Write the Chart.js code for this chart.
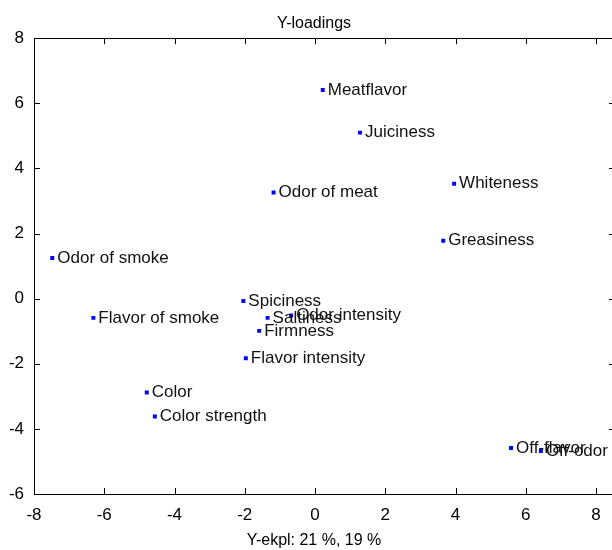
<!DOCTYPE html>
<html>
<head>
<meta charset="utf-8">
<script src="https://cdn.jsdelivr.net/npm/chart.js@4/dist/chart.umd.min.js"></script>
<style>
  html, body { margin: 0; padding: 0; background: #fff; }
  #wrap { width: 612px; height: 550px; overflow: hidden; }
  canvas { display: block; }
</style>
</head>
<body>
<div id="wrap"><canvas id="c" width="628" height="550"></canvas></div>
<script>
// Sensory attributes and their Y-loadings (component 1 vs component 2)
const attributes = [
  'Meatflavor', 'Juiciness', 'Odor of meat', 'Whiteness', 'Greasiness',
  'Odor of smoke', 'Spiciness', 'Flavor of smoke', 'Saltiness', 'Odor intensity',
  'Firmness', 'Flavor intensity', 'Color', 'Color strength', 'Off-flavor', 'Off-odor'
];
const loadingX = [
  0.22, 1.28, -1.18, 3.96, 3.65,
  -7.48, -2.04, -6.31, -1.35, -0.68,
  -1.59, -1.97, -4.79, -4.56, 5.58, 6.43
];
const loadingY = [
  6.41, 5.10, 3.26, 3.53, 1.78,
  1.25, -0.07, -0.59, -0.59, -0.52,
  -0.99, -1.83, -2.88, -3.62, -4.59, -4.68
];
const xTicks = [-8, -6, -4, -2, 0, 2, 4, 6, 8];
const yTicks = [-6, -4, -2, 0, 2, 4, 6, 8];

const FONT = '"Liberation Sans", Arial, Helvetica, sans-serif';

// Box around the plot with short inward tick marks on every side
const framePlugin = {
  id: 'frame',
  afterDraw(chart) {
    const { ctx, chartArea: a, scales } = chart;
    const len = 6;
    ctx.save();
    ctx.strokeStyle = '#000';
    ctx.lineWidth = 1;
    ctx.beginPath();
    ctx.rect(Math.round(a.left) + 0.5, Math.round(a.top) + 0.5,
             Math.round(a.right - a.left), Math.round(a.bottom - a.top));
    scales.x.ticks.forEach(t => {
      const px = Math.round(scales.x.getPixelForValue(t.value)) + 0.5;
      ctx.moveTo(px, a.bottom); ctx.lineTo(px, a.bottom - len);
      ctx.moveTo(px, a.top); ctx.lineTo(px, a.top + len);
    });
    scales.y.ticks.forEach(t => {
      const py = Math.round(scales.y.getPixelForValue(t.value)) + 0.5;
      ctx.moveTo(a.left, py); ctx.lineTo(a.left + len, py);
      ctx.moveTo(a.right, py); ctx.lineTo(a.right - len, py);
    });
    ctx.stroke();
    ctx.restore();
  }
};

// Attribute name written just to the right of each point
const pointLabelPlugin = {
  id: 'pointLabels',
  afterDatasetsDraw(chart) {
    const { ctx } = chart;
    const meta = chart.getDatasetMeta(0);
    ctx.save();
    ctx.font = '17px ' + FONT;
    ctx.fillStyle = '#111';
    ctx.textAlign = 'left';
    ctx.textBaseline = 'middle';
    meta.data.forEach((pt, i) => {
      ctx.fillText(attributes[i], pt.x + 5, pt.y);
    });
    ctx.restore();
  }
};

new Chart(document.getElementById('c'), {
  type: 'scatter',
  data: {
    datasets: [{
      data: loadingX.map((x, i) => ({ x: x, y: loadingY[i] })),
      backgroundColor: '#0000ff',
      borderWidth: 0,
      pointStyle: 'rect',
      pointRadius: 2.8,
      pointHoverRadius: 2.8
    }]
  },
  options: {
    responsive: false,
    animation: false,
    devicePixelRatio: 1,
    layout: { padding: 0 },
    plugins: {
      legend: { display: false },
      tooltip: { enabled: false },
      title: {
        display: true,
        text: 'Y-loadings',
        color: '#000',
        font: { family: FONT, size: 16, weight: 'normal' },
        padding: { top: 14, bottom: 5 }
      },
      subtitle: {
        display: true,
        position: 'bottom',
        text: 'Y-ekpl: 21 %, 19 %',
        color: '#000',
        font: { family: FONT, size: 16, weight: 'normal' },
        padding: { top: 8, bottom: 0 }
      }
    },
    scales: {
      x: {
        type: 'linear',
        min: -8,
        max: 8.54,
        afterBuildTicks: s => { s.ticks = xTicks.map(v => ({ value: v })); },
        afterFit: s => { s.height = 28.8; },
        grid: { display: false, drawTicks: false },
        border: { display: false },
        ticks: {
          color: '#000',
          padding: 11,
          maxRotation: 0,
          font: { family: FONT, size: 17 }
        }
      },
      y: {
        type: 'linear',
        min: -6,
        max: 8,
        afterBuildTicks: s => { s.ticks = yTicks.map(v => ({ value: v })); },
        afterFit: s => { s.width = 34; },
        grid: { display: false, drawTicks: false },
        border: { display: false },
        ticks: {
          color: '#000',
          padding: 10,
          font: { family: FONT, size: 17 }
        }
      },
      // mirror axis on the right edge of the box, unlabeled
      yRight: {
        type: 'linear',
        position: 'right',
        min: -6,
        max: 8,
        afterFit: s => { s.width = 13; },
        grid: { display: false, drawTicks: false },
        border: { display: false },
        ticks: { display: false }
      }
    }
  },
  plugins: [framePlugin, pointLabelPlugin]
});
</script>
</body>
</html>
